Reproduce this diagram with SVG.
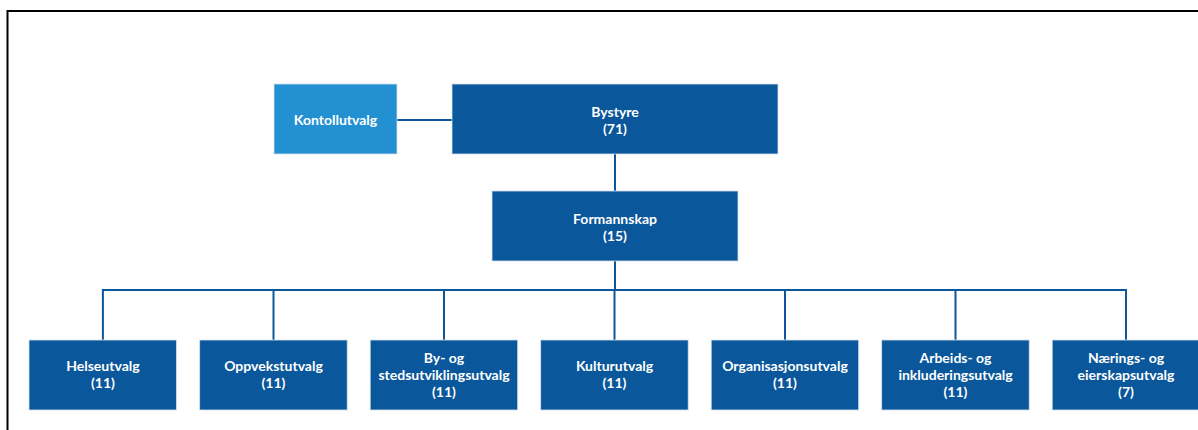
<svg xmlns="http://www.w3.org/2000/svg" width="1198" height="430" viewBox="0 0 1198 430">
<style>
.box{fill:#0A579B;stroke:#d5e2ef;stroke-width:0.8}
.light{fill:#2391D1;stroke:#d5e2ef;stroke-width:0.8}
.t{font-family:Lato,"Liberation Sans",sans-serif;font-weight:bold;font-size:14px;fill:#ffffff;text-anchor:middle}
.c{fill:none;stroke:#0A579B;stroke-width:2}
</style>
<rect width="1198" height="430" fill="#ffffff"/>
<path d="M7.5,430 V11 H1198" fill="none" stroke="#000000" stroke-width="2"/>
<g id="connectors">
<path class="c" d="M397,120 H452"/>
<path class="c" d="M615,154 V191"/>
<path class="c" d="M615,261 V290"/>
<path class="c" d="M102.9,340 V290 H1126 V340"/>
<path class="c" d="M273.5,290 V340 M444,290 V340 M614.5,290 V340 M785,290 V340 M955.5,290 V340"/>
</g>
<g id="kontrollutvalg">
<rect class="light" x="274" y="84" width="123" height="70"/>
<text class="t" x="335.5" y="124.5">Kontollutvalg</text>
</g>
<g id="bystyre">
<rect class="box" x="452" y="84" width="326" height="70"/>
<text class="t" x="615" y="116.5">Bystyre</text>
<text class="t" x="615" y="133.5">(71)</text>
</g>
<g id="formannskap">
<rect class="box" x="492" y="191" width="246" height="70"/>
<text class="t" x="615" y="223.5">Formannskap</text>
<text class="t" x="615" y="240.5">(15)</text>
</g>
<g id="helseutvalg">
<rect class="box" x="29" y="340" width="147.5" height="70"/>
<text class="t" x="102.9" y="371">Helseutvalg</text>
<text class="t" x="102.9" y="388">(11)</text>
</g>
<g id="oppvekstutvalg">
<rect class="box" x="199.7" y="340" width="147.5" height="70"/>
<text class="t" x="273.5" y="371">Oppvekstutvalg</text>
<text class="t" x="273.5" y="388">(11)</text>
</g>
<g id="by-og-stedsutviklingsutvalg">
<rect class="box" x="370.2" y="340" width="147.5" height="70"/>
<text class="t" x="444" y="362.5">By- og</text>
<text class="t" x="444" y="379.5">stedsutviklingsutvalg</text>
<text class="t" x="444" y="396.5">(11)</text>
</g>
<g id="kulturutvalg">
<rect class="box" x="540.7" y="340" width="147.5" height="70"/>
<text class="t" x="614.5" y="371">Kulturutvalg</text>
<text class="t" x="614.5" y="388">(11)</text>
</g>
<g id="organisasjonsutvalg">
<rect class="box" x="711.2" y="340" width="147.5" height="70"/>
<text class="t" x="785" y="371">Organisasjonsutvalg</text>
<text class="t" x="785" y="388">(11)</text>
</g>
<g id="arbeids-og-inkluderingsutvalg">
<rect class="box" x="881.7" y="340" width="147.5" height="70"/>
<text class="t" x="955.5" y="362.5">Arbeids- og</text>
<text class="t" x="955.5" y="379.5">inkluderingsutvalg</text>
<text class="t" x="955.5" y="396.5">(11)</text>
</g>
<g id="naerings-og-eierskapsutvalg">
<rect class="box" x="1052.2" y="340" width="147.5" height="70"/>
<text class="t" x="1126" y="362.5">Nærings- og</text>
<text class="t" x="1126" y="379.5">eierskapsutvalg</text>
<text class="t" x="1126" y="396.5">(7)</text>
</g>
</svg>
